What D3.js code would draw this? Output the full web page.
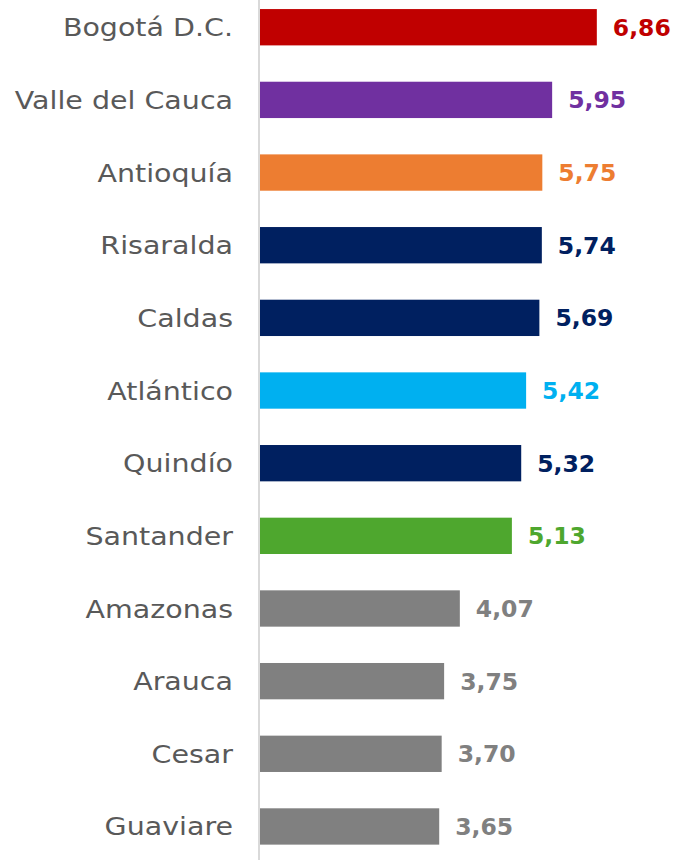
<!DOCTYPE html>
<html>
<head>
<meta charset="utf-8">
<script src="https://cdn.jsdelivr.net/npm/d3@7"></script>
<style>
  body { margin: 0; background: #fff; }
</style>
</head>
<body>
<div id="chart1"></div>
<script>

const width = 674;
const height = 860;

// data
const regions = ["Bogotá D.C.", "Valle del Cauca", "Antioquía", "Risaralda", "Caldas", "Atlántico",
  "Quindío", "Santander", "Amazonas", "Arauca", "Cesar", "Guaviare"];
const values = [6.86, 5.95, 5.75, 5.74, 5.69, 5.42, 5.32, 5.13, 4.07, 3.75, 3.70, 3.65];
const barColors = ["#C00000", "#7030A0", "#ED7D31", "#002060", "#002060", "#00B0F0",
  "#002060", "#4EA72E", "#808080", "#808080", "#808080", "#808080"];

const data = regions.map((r, i) => ({ region: r, value: values[i], color: barColors[i] }));

const x0 = 260;

const svg = d3.select("#chart1").append("svg")
    .attr("width", width)
    .attr("height", height);

// x scale: ~49.1 px per unit
const x = d3.scaleLinear()
    .domain([0, 10])
    .range([x0, x0 + 491]);

const y = d3.scaleBand()
    .domain(regions)
    .range([-9.1, 862.8])
    .paddingInner(0.5)
    .paddingOuter(0.25);

// bars
svg.selectAll("rect.bar")
  .data(data)
  .join("rect")
    .attr("class", "bar")
    .attr("x", x(0))
    .attr("y", d => y(d.region))
    .attr("width", d => x(d.value) - x(0))
    .attr("height", y.bandwidth())
    .attr("fill", d => d.color);

// vertical axis line
svg.append("line")
    .attr("x1", x0 - 1).attr("x2", x0 - 1)
    .attr("y1", 0).attr("y2", height)
    .attr("stroke", "#d9d9d9")
    .attr("stroke-width", 2);

// category labels (stretched a bit, the original font is wide)
svg.selectAll("text.cat")
  .data(data)
  .join("text")
    .attr("class", "cat")
    .attr("transform", d => `translate(233,${y(d.region) + y.bandwidth() / 2}) scale(1.14,1)`)
    .attr("dy", "0.36em")
    .attr("text-anchor", "end")
    .attr("fill", "#595959")
    .style("font-family", "'DejaVu Sans', sans-serif")
    .style("font-size", "25px")
    .text(d => d.region);

// value labels
svg.selectAll("text.val")
  .data(data)
  .join("text")
    .attr("class", "val")
    .attr("x", d => x(d.value) + 16)
    .attr("y", d => y(d.region) + y.bandwidth() / 2)
    .attr("dy", "0.36em")
    .attr("fill", d => d.color)
    .style("font-family", "'DejaVu Sans', sans-serif")
    .style("font-size", "23.5px")
    .style("font-weight", "bold")
    .text(d => d3.format(".2f")(d.value).replace(".", ","));

</script>
</body>
</html>
